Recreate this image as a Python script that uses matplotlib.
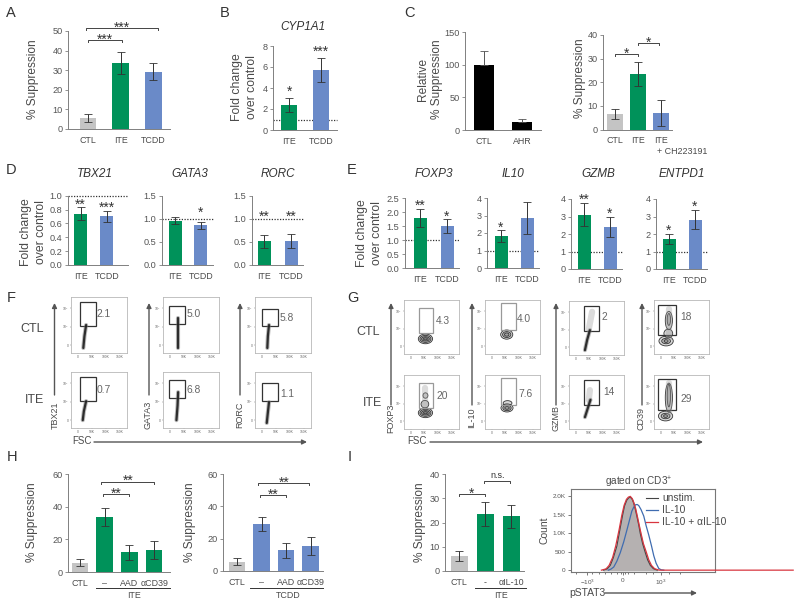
# Suppression / qPCR / flow summary figure
import matplotlib
matplotlib.use('Agg')
import matplotlib.pyplot as plt
from matplotlib.patches import Ellipse, Rectangle

plt.rcParams['font.family'] = ['Liberation Sans', 'DejaVu Sans']
plt.rcParams['mathtext.default'] = 'regular'

W, H = 800, 606
GREY = '#c4c4c4'
GREEN = '#00925a'
BLUE = '#6a8ac8'
TXT = '#4a4a4a'
AXC = '#808080'

# A
a_labels = ['CTL', 'ITE', 'TCDD']
a_values = [5.8, 33.7, 29.3]
a_errors = [2.0, 5.7, 4.2]
# B
b_labels = ['ITE', 'TCDD']
b_values = [2.4, 5.7]
b_errors = [0.65, 1.15]
# C
c1_labels = ['CTL', 'AHR']
c1_values = [100, 13]
c1_errors = [21, 4.5]
c2_labels = ['CTL', 'ITE', 'ITE']
c2_values = [6.5, 23.5, 7]
c2_errors = [2, 5, 5.5]
# D
tbx21_values = [0.74, 0.70]
tbx21_errors = [0.09, 0.08]
gata3_values = [0.96, 0.86]
gata3_errors = [0.08, 0.07]
rorc_values = [0.51, 0.52]
rorc_errors = [0.15, 0.15]
# E
foxp3_values = [1.8, 1.5]
foxp3_errors = [0.32, 0.25]
il10_values = [1.85, 2.85]
il10_errors = [0.35, 0.9]
gzmb_values = [3.1, 2.4]
gzmb_errors = [0.65, 0.55]
entpd1_values = [1.72, 2.82]
entpd1_errors = [0.28, 0.55]
# H
h_labels = ['CTL', '–', 'AAD', 'αCD39']
h1_values = [5.8, 33.7, 12, 13.3]
h1_errors = [2, 5.7, 4.5, 5.5]
h2_values = [5.8, 29.3, 12.7, 15.5]
h2_errors = [2, 4.3, 4.7, 5.8]
# I
i_labels = ['CTL', '-', 'αIL-10']
i_values = [6.3, 23.5, 22.5]
i_errors = [2, 5, 4.8]
# pSTAT3 histogram (x in display units, 0 = 0, 1 = 10^3)
unstim_x = [-0.50, -0.40, -0.32, -0.24, -0.15, -0.07, 0.0, 0.05, 0.11, 0.16, 0.20, 0.25,
            0.29, 0.33, 0.37, 0.42, 0.46, 0.52, 0.59, 0.65, 0.72, 0.80, 0.90]
unstim_y = [0, 35, 130, 340, 650, 1100, 1490, 1740, 1900, 1960, 1980, 1920,
            1810, 1650, 1465, 1220, 990, 720, 475, 280, 130, 40, 0]
il10_x = [-0.37, -0.30, -0.23, -0.15, -0.06, 0.03, 0.11, 0.18, 0.24, 0.29, 0.33, 0.38,
          0.42, 0.48, 0.55, 0.61, 0.68, 0.75, 0.81, 0.87, 0.94, 1.0, 1.07]
il10_y = [0, 30, 85, 240, 475, 770, 1080, 1360, 1600, 1710, 1770, 1780,
          1750, 1640, 1465, 1210, 950, 660, 390, 190, 45, 10, 0]
anti_x = [-0.55, -0.43, -0.35, -0.26, -0.18, -0.09, -0.02, 0.04, 0.10, 0.15, 0.20, 0.25, 0.29,
          0.34, 0.38, 0.43, 0.48, 0.54, 0.62, 0.68, 0.75, 0.83, 0.95, 4.43]
anti_y = [0, 35, 130, 340, 650, 1100, 1490, 1760, 1920, 1980, 2000, 1940, 1830,
          1660, 1465, 1220, 990, 720, 475, 280, 130, 40, 0, 0]


def px_axes(left, top, right, bottom):
    return fig.add_axes([left / W, 1 - bottom / H, (right - left) / W, (bottom - top) / H])


def t(x, y, s, **kw):
    kw.setdefault('color', TXT)
    kw.setdefault('ha', 'center')
    kw.setdefault('va', 'center')
    return fig.text(x / W, 1 - y / H, s, **kw)


def star_text(ax, x, y, s):
    # the asterisk sits high in its line box, so pull it down onto y
    ax.annotate(s, (x, y), xytext=(0, -3.2), textcoords='offset points', ha='center', va='center',
                fontsize=10, color='#333333', annotation_clip=False)


def bar_panel(box, first, step, bar_w, labels, values, errors, colors, ymax, yticks,
              ytick_labels=None, dotted=None, stars=None, brackets=None, upper_only=False):
    left, top, right, bottom = box
    ax = px_axes(left, top, right, bottom)
    ax.set_xlim((left - first) / step, (right - first) / step)
    ax.set_ylim(0, ymax)
    xs = list(range(len(values)))
    if dotted is not None:
        ax.plot(ax.get_xlim(), [dotted, dotted], color='#333333', lw=0.9, ls=(0, (1, 1.2)),
                zorder=1, clip_on=False)
    ax.bar(xs, values, width=bar_w / step, color=colors, zorder=2)
    lower = [0] * len(errors) if upper_only else errors
    ecol = '#555555' if upper_only else '#333333'
    ax.errorbar(xs, values, yerr=[lower, errors], fmt='none', ecolor=ecol, elinewidth=0.7,
                capsize=3, capthick=0.6, zorder=3)
    for s in ['top', 'right']:
        ax.spines[s].set_visible(False)
    for s in ['left', 'bottom']:
        ax.spines[s].set_color(AXC)
        ax.spines[s].set_linewidth(0.7)
    ax.set_xticks(xs)
    ax.set_xticklabels(labels, linespacing=1.25)
    ax.set_yticks(yticks)
    if ytick_labels:
        ax.set_yticklabels(ytick_labels)
    ax.tick_params(axis='x', length=0, pad=5, labelsize=6.4, labelcolor=TXT)
    ax.tick_params(axis='y', length=2.5, width=0.6, color=AXC, pad=1.5, labelsize=6.6, labelcolor='#555555')
    for x, y, s in (stars or []):
        star_text(ax, x, y, s)
    for x0, x1, y, s in (brackets or []):
        tip = ymax * 0.02
        ax.plot([x0, x0, x1, x1], [y - tip, y, y, y - tip], color='#444444', lw=0.7, clip_on=False)
        if s == 'n.s.':
            ax.text((x0 + x1) / 2, y + ymax * 0.05, s, ha='center', va='center', fontsize=6.5,
                    color='#333333', clip_on=False)
        else:
            star_text(ax, (x0 + x1) / 2, y + ymax * 0.05, s)
    return ax


def flow_panel(box, gate, value, value_pos, trace=None, faint=None, rings=None, gate_col='#333333'):
    ax = px_axes(*box)
    ax.set_xlim(0, 100)
    ax.set_ylim(0, 100)
    for s in ax.spines.values():
        s.set_color('#b8b8b8')
        s.set_linewidth(0.6)
    ax.set_xticks([12, 37, 62, 87])
    ax.set_xticklabels(['0', '50K', '100K', '150K'])
    ax.set_yticks([14, 47, 80])
    ax.set_yticklabels(['0', '$10^3$', '$10^4$'])
    ax.tick_params(length=1, width=0.3, pad=0.5, labelsize=2.4, color='#666666', labelcolor='#666666')
    if faint:
        ax.plot(faint[0], faint[1], color='#999999', lw=4.5, alpha=0.35, solid_capstyle='round')
    if trace:
        ax.plot(trace[0], trace[1], color='#777777', lw=3.0, alpha=0.5, solid_capstyle='round')
        ax.plot(trace[0], trace[1], color='#1e1e1e', lw=1.6, alpha=0.9, solid_capstyle='round')
    for cx, cy, w, h in (rings or []):
        ax.add_patch(Ellipse((cx, cy), w, h, fc=(0.3, 0.3, 0.3, 0.22), ec='#333333', lw=0.6))
    x0, x1, y0, y1 = gate
    ax.add_patch(Rectangle((x0, y0), x1 - x0, y1 - y0, fill=False, ec=gate_col, lw=0.9))
    ax.text(value_pos[0], value_pos[1], value, fontsize=7.4, color='#666666', ha='center', va='center')


def arrow(x0, y0, x1, y1):
    fig.add_artist(matplotlib.patches.FancyArrowPatch(
        (x0 / W, 1 - y0 / H), (x1 / W, 1 - y1 / H), transform=fig.transFigure,
        arrowstyle='-|>', mutation_scale=7, color='#555555', lw=1.0, shrinkA=0, shrinkB=0))


fig = plt.figure(figsize=(8.0, 6.06), dpi=100, facecolor='white')

# panel letters
for x, y, s in [(11, 13, 'A'), (225, 13, 'B'), (410, 13, 'C'), (11, 170, 'D'), (352, 170, 'E'),
                (11, 298, 'F'), (353, 298, 'G'), (12, 457, 'H'), (350, 457, 'I')]:
    t(x, y, s, fontsize=10.5, color='#333333')

# top row
bar_panel((68, 31, 170, 129), 88, 32.7, 16.5, a_labels, a_values, a_errors, [GREY, GREEN, BLUE],
          50, [0, 10, 20, 30, 40, 50],
          brackets=[(0.0, 1.03, 45.4, '***'), (-0.06, 2.13, 51.5, '***')])
t(33, 79, '% Suppression', rotation=90, fontsize=8.6)

bar_panel((273, 46, 337, 130), 289.3, 31.7, 15.7, b_labels, b_values, b_errors, [GREEN, BLUE],
          8, [0, 2, 4, 6, 8], dotted=1, stars=[(0, 4.1, '*'), (1, 7.9, '***')])
t(303, 27, 'CYP1A1', style='italic', fontsize=8.5, color='#333333')
t(237, 87, 'Fold change', rotation=90, fontsize=8.8)
t(252, 87, 'over control', rotation=90, fontsize=8.8)

bar_panel((465, 32, 541, 130), 484, 38, 20, c1_labels, c1_values, c1_errors, ['black', 'black'],
          150, [0, 50, 100, 150], upper_only=True)
t(423, 79, 'Relative', rotation=90, fontsize=8.6)
t(437, 79, '% Suppression', rotation=90, fontsize=8.6)

bar_panel((603, 35, 672, 129.5), 615, 23, 15.3, c2_labels, c2_values, c2_errors, [GREY, GREEN, BLUE],
          40, [0, 10, 20, 30, 40],
          brackets=[(0.0, 1.0, 31.8, '*'), (0.98, 1.93, 36.6, '*')])
t(657, 152, '+ CH223191', fontsize=6.4, ha='left')
t(580, 78, '% Suppression', rotation=90, fontsize=8.6)

# D
two = ['ITE', 'TCDD']
bar_panel((68, 195.7, 128, 265), 80.7, 26, 13, two, tbx21_values, tbx21_errors, [GREEN, BLUE],
          1.0, [0, 0.2, 0.4, 0.6, 0.8, 1.0], dotted=1, stars=[(0, 0.93, '**'), (1, 0.89, '***')])
bar_panel((162, 195.7, 213, 265), 175, 25.7, 13, two, gata3_values, gata3_errors, [GREEN, BLUE],
          1.5, [0, 0.5, 1.0, 1.5], dotted=1, stars=[(1, 1.22, '*')])
bar_panel((252, 195.7, 303, 265), 264, 27, 13, two, rorc_values, rorc_errors, [GREEN, BLUE],
          1.5, [0, 0.5, 1.0, 1.5], dotted=1, stars=[(0, 1.15, '**'), (1, 1.15, '**')])
for x, s in [(95, 'TBX21'), (190, 'GATA3'), (278, 'RORC'), (434, 'FOXP3'), (513, 'IL10'),
             (598, 'GZMB'), (682, 'ENTPD1')]:
    t(x, 174, s, style='italic', fontsize=8.5, color='#333333')
t(26, 232, 'Fold change', rotation=90, fontsize=8.8)
t(41, 232, 'over control', rotation=90, fontsize=8.8)

# E
bar_panel((405, 198, 459, 268), 420, 27, 13, two, foxp3_values, foxp3_errors, [GREEN, BLUE],
          2.5, [0, 0.5, 1.0, 1.5, 2.0, 2.5], dotted=1, stars=[(0, 2.37, '**'), (1, 2.0, '*')])
bar_panel((487, 198, 539, 268), 501, 26, 13, two, il10_values, il10_errors, [GREEN, BLUE],
          4, [0, 1, 2, 3, 4], dotted=1, stars=[(0, 2.55, '*')])
bar_panel((571, 199, 622, 269), 584, 26, 13, two, gzmb_values, gzmb_errors, [GREEN, BLUE],
          4, [0, 1, 2, 3, 4], dotted=1, stars=[(0, 4.2, '**'), (1, 3.4, '*')])
bar_panel((656, 199, 707, 269), 669, 26, 13, two, entpd1_values, entpd1_errors, [GREEN, BLUE],
          4, [0, 1, 2, 3, 4], dotted=1, stars=[(0, 2.45, '*'), (1, 3.8, '*')])
t(362, 233, 'Fold change', rotation=90, fontsize=8.8)
t(377, 233, 'over control', rotation=90, fontsize=8.8)

# F flow plots
flow_panel((71, 297, 127, 353), (16, 45, 48, 91), '2.1', (59, 70), trace=([22, 24, 27], [9, 30, 50]))
flow_panel((71, 372, 127, 428), (16, 45, 48, 91), '0.7', (59, 68), trace=([21, 23, 27], [14, 30, 48]))
flow_panel((163, 297, 219, 353), (11, 39, 52, 84), '5.0', (55, 70), trace=([26, 26, 26], [9, 35, 62]))
flow_panel((163, 372, 219, 428), (11, 39, 54, 86), '6.8', (55, 68), trace=([24, 26, 27], [14, 40, 64]))
flow_panel((255, 297, 311, 353), (12.5, 41, 48, 79), '5.8', (57, 62), trace=([22, 23, 25], [9, 30, 50]))
flow_panel((255, 372, 311, 428), (12.5, 41, 48, 80), '1.1', (57, 61), trace=([21, 23, 25], [9, 28, 46]))

# G flow plots
flow_panel((404, 300, 459, 354), (27, 53, 39, 85), '4.3', (71, 61), gate_col='#999999',
           rings=[(39, 28, 26, 18), (39, 28, 20, 13), (39, 28, 14, 8), (39, 28, 7, 4)])
flow_panel((404, 375, 459, 429), (27, 53, 39, 85), '20', (69, 61), gate_col='#999999',
           faint=([39, 39], [42, 76]),
           rings=[(39, 30, 26, 18), (39, 30, 20, 13), (39, 30, 14, 8), (39, 30, 7, 4), (38, 46, 14, 14), (39, 62, 9, 10)])
flow_panel((485, 300, 540, 354), (28.5, 56, 44, 94), '4.0', (71, 65), gate_col='#999999',
           rings=[(39.5, 36, 22, 17), (39.5, 36, 15, 11), (39.5, 36, 8, 6)])
flow_panel((485, 375, 540, 429), (28.5, 56, 44, 94), '7.6', (74, 65), gate_col='#999999',
           rings=[(40, 39, 22, 15), (40, 39, 15, 10), (40, 39, 8, 5), (41, 48, 16, 9)])
flow_panel((569, 301, 624, 355), (27, 55, 44, 91), '2', (65, 70),
           trace=([29, 33, 38], [9, 28, 46]), faint=([36, 42], [48, 80]))
flow_panel((569, 375, 624, 429), (27, 55, 44, 91), '14', (72, 68),
           trace=([29, 34, 39], [22, 38, 54]), faint=([36, 38], [54, 72]))
flow_panel((654, 300, 709, 354), (8, 40, 35, 91), '18', (58, 69), faint=([27, 27], [30, 84]),
           rings=[(22, 24, 26, 18), (22, 24, 16, 10), (22, 24, 7, 5), (27, 62, 13, 34), (27, 64, 6, 22), (26, 38, 16, 16)])
flow_panel((654, 375, 709, 429), (8, 40, 35, 93), '29', (58, 56), faint=([27, 27], [30, 86]),
           rings=[(21, 24, 26, 18), (21, 24, 16, 10), (21, 24, 7, 5), (27, 58, 13, 54), (27, 62, 6, 42)])

# arrows and flow labels
for x in [54.5, 149, 240]:
    arrow(x, 395, x, 303)
for x in [391, 472, 556, 642]:
    arrow(x, 405, x, 303)
for x, s in [(55, 'TBX21'), (148, 'GATA3'), (240, 'RORC')]:
    t(x, 415, s, rotation=90, fontsize=6.5)
for x, s in [(391, 'FOXP3'), (472, 'IL-10'), (556, 'GZMB'), (641, 'CD39')]:
    t(x, 418, s, rotation=90, fontsize=6.5)
arrow(94, 442, 307, 442)
arrow(430, 442, 703, 442)
t(82, 441, 'FSC', fontsize=7)
t(417, 441, 'FSC', fontsize=7)
t(32, 329, 'CTL', fontsize=9)
t(35, 400, 'ITE', fontsize=9)
t(368, 332, 'CTL', fontsize=9)
t(372, 403, 'ITE', fontsize=9)

# H
bar_panel((68, 474, 170, 572), 80, 24.7, 16.5, h_labels, h1_values, h1_errors, [GREY, GREEN, GREEN, GREEN],
          60, [0, 20, 40, 60], brackets=[(0.95, 1.97, 47.8, '**'), (0.87, 3.0, 55.3, '**')])
bar_panel((223, 474, 323, 571), 237, 24.5, 16.5, h_labels, h2_values, h2_errors, [GREY, BLUE, BLUE, BLUE],
          60, [0, 20, 40, 60], brackets=[(0.93, 2.0, 47, '**'), (0.87, 2.95, 54.6, '**')])
t(32, 522, '% Suppression', rotation=90, fontsize=8.6)
t(190, 522, '% Suppression', rotation=90, fontsize=8.6)
t(134, 596, 'ITE', fontsize=6.4)
t(288, 596, 'TCDD', fontsize=6.4)
fig.add_artist(plt.Line2D([96 / W, 170 / W], [1 - 588 / H] * 2, color='#333333', lw=0.7))
fig.add_artist(plt.Line2D([250 / W, 323 / W], [1 - 588 / H] * 2, color='#333333', lw=0.7))

# I
bar_panel((445, 474, 524, 571), 459, 26, 17, i_labels, i_values, i_errors, [GREY, GREEN, GREEN],
          40, [0, 10, 20, 30, 40], brackets=[(0.0, 1.0, 31.6, '*'), (0.97, 1.98, 37.2, 'n.s.')])
t(420, 522, '% Suppression', rotation=90, fontsize=8.6)
t(500.7, 596, 'ITE', fontsize=6.4)
fig.add_artist(plt.Line2D([475 / W, 526 / W], [1 - 588 / H] * 2, color='#333333', lw=0.7))

# pSTAT3 histogram
ax = px_axes(571, 489, 715, 572)
ax.set_xlim(-1.34, 2.4)
ax.set_ylim(-50, 2200)
ax.fill_between(unstim_x, unstim_y, color='#b5b1b1', zorder=1)
ax.plot(unstim_x, unstim_y, color='#444444', lw=0.8, label='unstim.', zorder=2)
ax.plot(il10_x, il10_y, color='#3f6cb0', lw=0.9, label='IL-10', zorder=3)
ax.plot(anti_x, anti_y, color='#d8353f', lw=0.9, label='IL-10 + αIL-10', zorder=4, clip_on=False)
for s in ax.spines.values():
    s.set_color('#777777')
    s.set_linewidth(0.8)
ax.set_xticks([-0.92, 0, 1])
ax.set_xticklabels(['$-10^3$', '0', '$10^3$'])
ax.set_xticks([-1.2, -0.8, -0.6, -0.45, -0.3, -0.15, -0.05, 0.05, 0.15, 0.3, 0.6, 0.8, 1.2, 1.5], minor=True)
ax.set_yticks([0, 500, 1000, 1500, 2000])
ax.set_yticklabels(['0', '500', '1.0K', '1.5K', '2.0K'])
ax.tick_params(axis='both', which='major', length=2.5, width=0.5, labelsize=4.6, pad=1.5,
               color='#444444', labelcolor='#555555')
ax.tick_params(axis='x', which='minor', length=1.5, width=0.5, color='#444444')
ax.legend(loc='upper left', bbox_to_anchor=(0.52, 0.95), frameon=False, fontsize=7.4, labelcolor=TXT,
          handlelength=1.2, handletextpad=0.4, labelspacing=0.2, borderpad=0, borderaxespad=0)
t(639, 482, 'gated on CD3$^{+}$', fontsize=7.2)
t(545, 530, 'Count', rotation=90, fontsize=7.5)
t(587, 593, 'pSTAT3', fontsize=7.5)
arrow(605, 593, 697, 593)

fig.savefig('out.png', dpi=100, facecolor='white')
